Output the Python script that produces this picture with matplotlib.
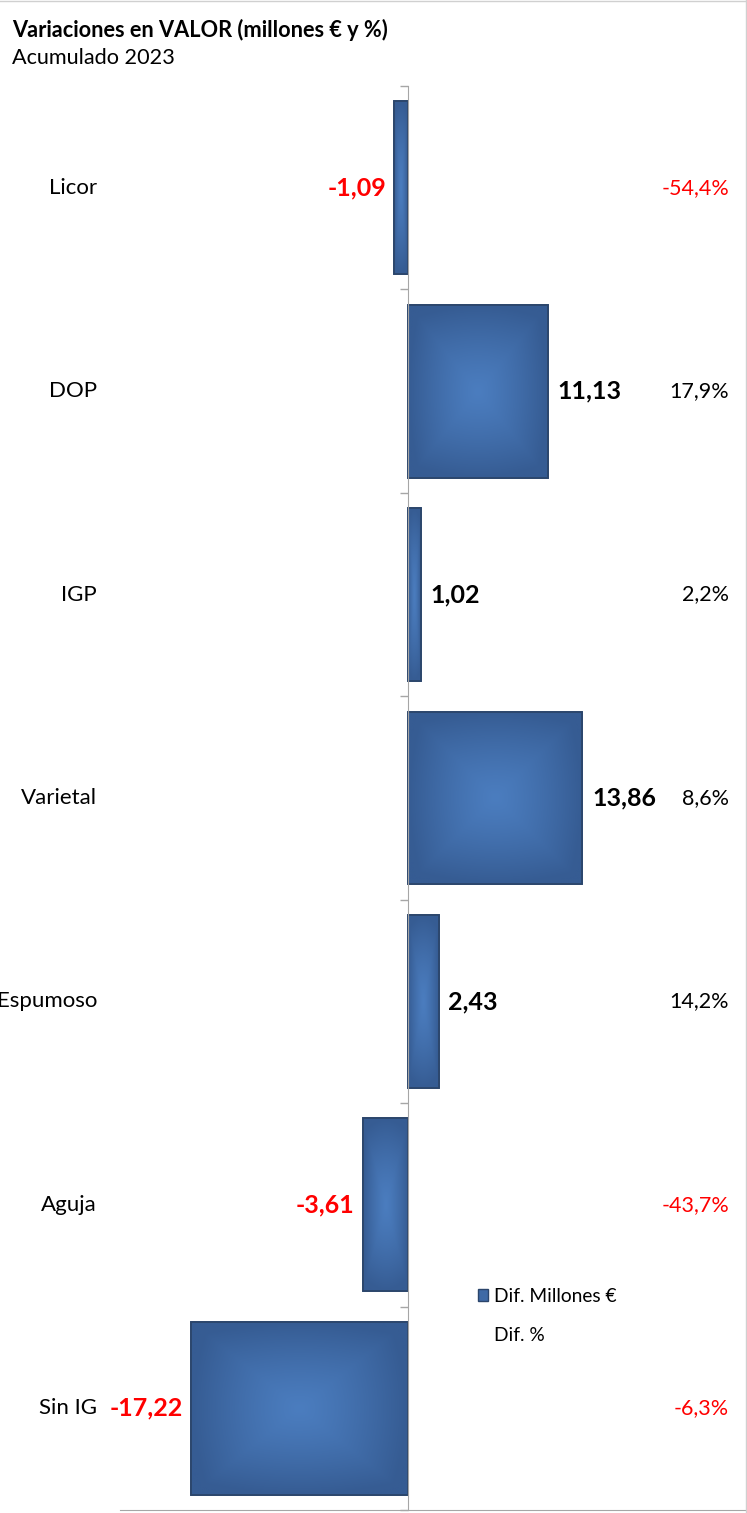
import numpy as np
import matplotlib
matplotlib.use("Agg")
import matplotlib.pyplot as plt
from matplotlib.patches import Patch
from matplotlib.transforms import blended_transform_factory
from matplotlib.lines import Line2D

categories = ["Licor", "DOP", "IGP", "Varietal", "Espumoso", "Aguja", "Sin IG"]
dif_millones = [-1.09, 11.13, 1.02, 13.86, 2.43, -3.61, -17.22]
dif_pct = [-54.4, 17.9, 2.2, 8.6, 14.2, -43.7, -6.3]

title = "Variaciones en VALOR (millones € y %)"
subtitle = "Acumulado 2023"
legend_labels = ["Dif. Millones €", "Dif. %"]

FONT = ["Lato", "DejaVu Sans"]
plt.rcParams['font.family'] = FONT

W, H = 747, 1513
fig = plt.figure(figsize=(W / 100, H / 100), dpi=100)
fig.patch.set_facecolor("white")

ax_left, ax_right, ax_top, ax_bottom = 120, 745, 86, 1510
ax = fig.add_axes([ax_left / W, 1 - ax_bottom / H, (ax_right - ax_left) / W, (ax_bottom - ax_top) / H])
ax.set_facecolor("none")

y = np.arange(len(categories))
bars = ax.barh(y, dif_millones, height=0.85, color="#4775B3", edgecolor="#2B456B", linewidth=1.2, zorder=2)

ax.set_xlim(-22.9, 26.8)
ax.set_ylim(len(categories) - 0.5, -0.5)

# radial gradient fill clipped to each bar
ny, nx = 100, 100
gy, gx = np.mgrid[-1:1:ny * 1j, -1:1:nx * 1j]
r = np.clip(np.maximum(np.abs(gx) ** 1.5, np.abs(gy) ** 1.5) * 0.6 + np.sqrt(gx ** 2 + gy ** 2) * 0.4, 0, 1)
c_center = np.array([0x4B, 0x7D, 0xBF]) / 255
c_edge = np.array([0x36, 0x5C, 0x93]) / 255
img = c_center[None, None, :] * (1 - r[..., None]) + c_edge[None, None, :] * r[..., None]
for b in bars:
    x0, y0 = b.get_x(), b.get_y()
    w, h = b.get_width(), b.get_height()
    im = ax.imshow(img, extent=(x0, x0 + w, y0 + h, y0), aspect="auto", zorder=2.5, interpolation="bicubic")
    im.set_clip_path(b)
    edge = plt.Rectangle((x0, y0), w, h, fill=False, edgecolor="#2B456B", linewidth=1.3, zorder=3)
    ax.add_patch(edge)
ax.set_xlim(-22.9, 26.8)
ax.set_ylim(len(categories) - 0.5, -0.5)

# spines / ticks
for s in ["top", "right"]:
    ax.spines[s].set_visible(False)
ax.spines["left"].set_position(("data", 0))
ax.spines["left"].set_color("#A6A6A6")
ax.spines["bottom"].set_color("#A6A6A6")
ax.spines["left"].set_zorder(4)
ax.set_xticks([])
ax.set_yticks(np.arange(-0.5, len(categories), 1.0))
ax.set_yticklabels([])
ax.tick_params(axis="y", direction="out", length=6, color="#A6A6A6", width=1)

# category labels
trans_cat = blended_transform_factory(fig.transFigure, ax.transData)
for yi, cat in zip(y, categories):
    ax.text(97 / W, yi, cat, transform=trans_cat, ha="right", va="center", fontsize=16, color="#000000")

# value labels
for b, v in zip(bars, dif_millones):
    yc = b.get_y() + b.get_height() / 2
    if v >= 0:
        ax.annotate(f"{v:.2f}".replace(".", ","), xy=(v, yc), xytext=(7, 0), textcoords="offset points",
                    ha="left", va="center", fontsize=18, fontweight="bold", color="black", zorder=5)
    else:
        ax.annotate(f"{v:.2f}".replace(".", ","), xy=(v, yc), xytext=(-6, 0), textcoords="offset points",
                    ha="right", va="center", fontsize=18, fontweight="bold", color="#FF0000", zorder=5)

# percent labels
for yi, p in zip(y, dif_pct):
    col = "#FF0000" if p < 0 else "black"
    ax.text(729 / W, yi, f"{p:.1f}%".replace(".", ","), transform=trans_cat, ha="right", va="center",
            fontsize=15.5, color=col)

# legend
handles = [Patch(facecolor="#3F6AA6", edgecolor="#2B456B"), Patch(facecolor="none", edgecolor="none")]
leg = fig.legend(handles, legend_labels, loc="upper left", bbox_to_anchor=(470 / W, 1 - 1280 / H),
                 frameon=False, fontsize=13.8, handlelength=0.55, handleheight=0.55, handletextpad=0.3,
                 labelspacing=1.15, borderaxespad=0)

# title
fig.text(12 / W, 1 - 30 / H, title, ha="left", va="center", fontsize=15.7, fontweight="bold")
fig.text(12 / W, 1 - 58 / H, subtitle, ha="left", va="center", fontsize=15.6)

# chart frame (top and right edges)
fig.add_artist(Line2D([0, 745.5 / W], [1 - 0.5 / H, 1 - 0.5 / H], transform=fig.transFigure, color="#D0D0D0", lw=1))
fig.add_artist(Line2D([745.5 / W, 745.5 / W], [0, 1], transform=fig.transFigure, color="#D0D0D0", lw=1))

fig.savefig("out.png", dpi=100)
